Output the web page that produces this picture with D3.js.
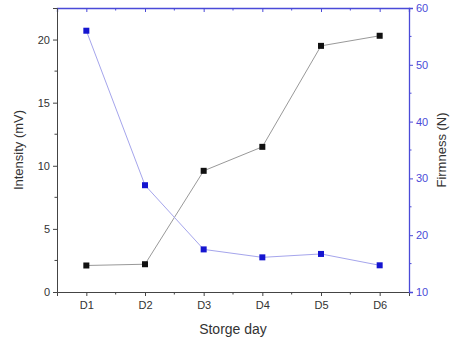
<!DOCTYPE html>
<html>
<head>
<meta charset="utf-8">
<script src="https://cdn.jsdelivr.net/npm/d3@7"></script>
<style>
  body { margin: 0; background: #fff; }
  text { font-family: "Liberation Sans", Arial, sans-serif; }
</style>
</head>
<body>
<div id="chart"></div>
<script>
const days = ["D1", "D2", "D3", "D4", "D5", "D6"];
const intensity = [2.1, 2.2, 9.6, 11.5, 19.5, 20.3];
const firmness = [56.0, 28.8, 17.5, 16.1, 16.7, 14.7];
const leftTicks = [0, 5, 10, 15, 20];
const rightTicks = [10, 20, 30, 40, 50, 60];

const width = 451, height = 343;
const margin = { top: 8, right: 42, bottom: 51, left: 57 };
const iw = width - margin.left - margin.right;
const ih = height - margin.top - margin.bottom;

const svg = d3.select("#chart").append("svg")
  .attr("width", width)
  .attr("height", height);

const g = svg.append("g")
  .attr("transform", `translate(${margin.left},${margin.top})`);

// x positions: categories at 1..6, axis spans 0.5..6.5
const x = d3.scaleLinear().domain([0.5, 6.5]).range([0, iw]);
const yL = d3.scaleLinear().domain([0, 22.5]).range([ih, 0]);
const yR = d3.scaleLinear().domain([10, 60]).range([ih, 0]);

const blue = "#4a4ad8";
const dark = "#444";

// bottom axis
const xMajor = days.map((d, i) => i + 1);
const xMinor = d3.range(1.5, 6.5, 1);
const bottomAxis = g.append("g").attr("transform", `translate(0,${ih})`);
bottomAxis.call(d3.axisBottom(x).tickValues(xMajor).tickFormat((d, i) => days[i]).tickSize(4).tickPadding(5))
  .call(a => a.select(".domain").attr("stroke", dark));
bottomAxis.selectAll(".tick line").attr("stroke", dark);
bottomAxis.selectAll(".tick text").attr("fill", "#333").style("font-size", "11px");
bottomAxis.selectAll(".minor").data(xMinor).join("line")
  .attr("x1", d => x(d)).attr("x2", d => x(d))
  .attr("y1", 0).attr("y2", 2.5).attr("stroke", dark);

// top axis (blue, inward ticks)
const topAxis = g.append("g");
topAxis.call(d3.axisTop(x).tickValues(xMajor).tickFormat("").tickSize(-4))
  .call(a => a.select(".domain").attr("stroke", blue).attr("stroke-width", 1.3));
topAxis.selectAll(".tick line").attr("stroke", blue);
topAxis.selectAll(".minor").data(xMinor).join("line")
  .attr("x1", d => x(d)).attr("x2", d => x(d))
  .attr("y1", 0).attr("y2", 2.5).attr("stroke", blue);

// left axis
const leftAxis = g.append("g");
leftAxis.call(d3.axisLeft(yL).tickValues(leftTicks).tickSize(4).tickPadding(3))
  .call(a => a.select(".domain").attr("stroke", dark));
leftAxis.selectAll(".tick line").attr("stroke", dark);
leftAxis.selectAll(".tick text").attr("fill", "#333").style("font-size", "11px");
leftAxis.selectAll(".minor").data(d3.range(2.5, 22.5, 5)).join("line")
  .attr("x1", 0).attr("x2", -2.5)
  .attr("y1", d => yL(d)).attr("y2", d => yL(d)).attr("stroke", dark);

// right axis (blue)
const rightAxis = g.append("g").attr("transform", `translate(${iw},0)`);
rightAxis.call(d3.axisRight(yR).tickValues(rightTicks).tickSize(4).tickPadding(3))
  .call(a => a.select(".domain").attr("stroke", blue).attr("stroke-width", 1.3));
rightAxis.selectAll(".tick line").attr("stroke", blue);
rightAxis.selectAll(".tick text").attr("fill", blue).style("font-size", "11px");
rightAxis.selectAll(".minor").data(d3.range(15, 60, 10)).join("line")
  .attr("x1", 0).attr("x2", 2.5)
  .attr("y1", d => yR(d)).attr("y2", d => yR(d)).attr("stroke", blue);

// intensity series
g.append("path")
  .datum(intensity)
  .attr("fill", "none")
  .attr("stroke", "#999")
  .attr("stroke-width", 1)
  .attr("d", d3.line().x((d, i) => x(i + 1)).y(d => yL(d)));
g.selectAll(".pI").data(intensity).join("rect")
  .attr("class", "pI")
  .attr("x", (d, i) => x(i + 1) - 3).attr("y", d => yL(d) - 3)
  .attr("width", 6).attr("height", 6).attr("fill", "#111");

// firmness series
g.append("path")
  .datum(firmness)
  .attr("fill", "none")
  .attr("stroke", "#a5a5ec")
  .attr("stroke-width", 1)
  .attr("d", d3.line().x((d, i) => x(i + 1)).y(d => yR(d)));
g.selectAll(".pF").data(firmness).join("rect")
  .attr("class", "pF")
  .attr("x", (d, i) => x(i + 1) - 3).attr("y", d => yR(d) - 3)
  .attr("width", 6).attr("height", 6).attr("fill", "#1515d0");

// axis titles
svg.append("text")
  .attr("x", margin.left + iw / 2).attr("y", 334)
  .attr("text-anchor", "middle")
  .style("font-size", "14px").attr("fill", "#333")
  .text("Storge day");

svg.append("text")
  .attr("transform", `translate(23,${margin.top + ih / 2}) rotate(-90)`)
  .attr("text-anchor", "middle")
  .style("font-size", "13px").attr("fill", "#333")
  .text("Intensity (mV)");

svg.append("text")
  .attr("transform", `translate(446,${margin.top + ih / 2}) rotate(-90)`)
  .attr("text-anchor", "middle")
  .style("font-size", "13px").attr("fill", "#333")
  .text("Firmness (N)");
</script>
</body>
</html>
